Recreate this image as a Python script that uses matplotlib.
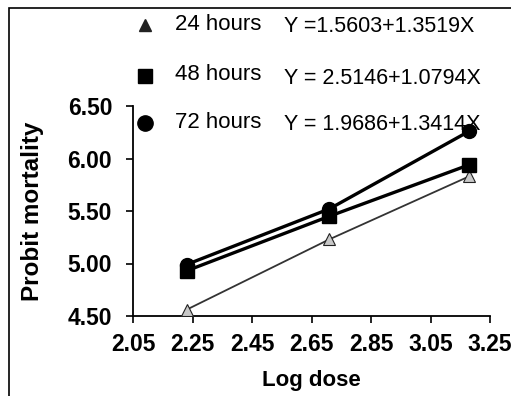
import matplotlib.pyplot as plt
from matplotlib.patches import Rectangle

plt.rcParams["font.family"] = ["Liberation Sans", "DejaVu Sans"]

# -------------------------------
# Data
# -------------------------------

log_dose = [2.23, 2.71, 3.18]

mort_24h = [4.56, 5.23, 5.83]
mort_48h = [4.93, 5.45, 5.94]
mort_72h = [4.99, 5.52, 6.26]

labels = ["24 hours", "48 hours", "72 hours"]
equations = [
    "Y =1.5603+1.3519X",
    "Y = 2.5146+1.0794X",
    "Y = 1.9686+1.3414X",
]

x_ticks = [2.05, 2.25, 2.45, 2.65, 2.85, 3.05, 3.25]
y_ticks = [4.50, 5.00, 5.50, 6.00, 6.50]

# -------------------------------
# Figure
# -------------------------------

W, H = 511, 396
fig = plt.figure(figsize=(W / 100, H / 100), dpi=100)

ax = fig.add_axes([133 / W, 1 - 316 / H, (490 - 133) / W, (316 - 106) / H])

ax.plot(log_dose, mort_24h, color="#333333", linewidth=1.3,
        marker="^", markersize=8, markerfacecolor="#c8c8c8",
        markeredgecolor="#222222", markeredgewidth=0.8, zorder=3)

ax.plot(log_dose, mort_72h, color="black", linewidth=2.4,
        marker="o", markersize=10, zorder=4)

ax.plot(log_dose, mort_48h, color="black", linewidth=2.4,
        marker="s", markersize=10, zorder=5)

ax.set_xlim(2.05, 3.25)
ax.set_ylim(4.50, 6.50)
ax.set_xticks(x_ticks)
ax.set_xticklabels([f"{v:.2f}" for v in x_ticks])
ax.set_yticks(y_ticks)
ax.set_yticklabels([f"{v:.2f}" for v in y_ticks])

for lbl in ax.get_xticklabels() + ax.get_yticklabels():
    lbl.set_fontweight("bold")
    lbl.set_fontsize(16.5)

ax.tick_params(axis="x", direction="out", length=5, width=1.2, pad=7)
ax.tick_params(axis="y", direction="out", length=5, width=1.2, pad=10)

ax.spines["top"].set_visible(False)
ax.spines["right"].set_visible(False)
ax.spines["left"].set_linewidth(1.3)
ax.spines["bottom"].set_linewidth(1.3)

ax.set_xlabel("Log dose", fontsize=16, fontweight="bold", labelpad=10)
ax.set_ylabel("Probit mortality", fontsize=17.5, fontweight="bold", labelpad=17)

# -------------------------------
# Legend (drawn by hand)
# -------------------------------

legend_y = [25, 76, 123]
markers = [("^", "#222222", 8), ("s", "black", 10), ("o", "black", 11)]

for i in range(3):
    m, c, s = markers[i]
    fig.lines.append(plt.Line2D([145 / W], [1 - legend_y[i] / H], marker=m,
                                markersize=s, color=c, linestyle="none",
                                transform=fig.transFigure))
    fig.text(175 / W, 1 - (legend_y[i] - 1) / H, labels[i],
             fontsize=16, va="center", ha="left")
    fig.text(284 / W, 1 - (legend_y[i] + 2) / H, equations[i],
             fontsize=15.5, va="center", ha="left")

# figure frame
fig.patches.append(Rectangle((9 / W, -0.1), 1.2, 1 - 8 / H + 0.1,
                             transform=fig.transFigure, fill=False,
                             edgecolor="black", linewidth=1.2))

fig.savefig("out.png", dpi=100)
plt.close()
